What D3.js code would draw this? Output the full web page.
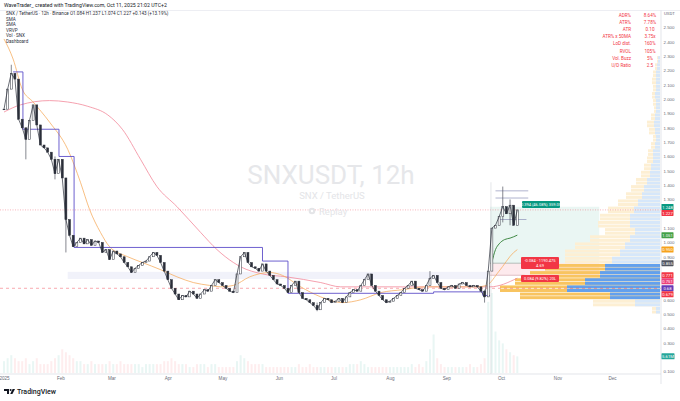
<!DOCTYPE html>
<meta charset="utf-8">
<head>
  <script src="https://cdnjs.cloudflare.com/ajax/libs/d3/7.8.5/d3.min.js"></script>
  <style>
    body { margin: 0; background: #fff; }
    svg { display: block; font-family: Roboto, "Liberation Sans", sans-serif; }
  </style>
</head>
<body>
<div id="chart"></div>
<script>

// ---- data ----
// 12h chart sampled every 2 days from Jan 1 2025
var firstDay = new Date(2025, 0, 1);
var stepDays = 2;
var closes = [
  1.93, 2.07, 2.18, 2.14, 1.86, 1.80, 1.72, 1.85, 1.96, 1.82,
  1.68, 1.66, 1.63, 1.58, 1.48, 1.58, 1.45, 1.16, 1.05, 0.97,
  1.00, 1.03, 0.99, 1.02, 0.98, 1.01, 1.00, 0.93, 0.95, 0.88,
  0.94, 0.92, 0.90, 0.86, 0.83, 0.79, 0.82, 0.84, 0.86, 0.87,
  0.90, 0.93, 0.91, 0.86, 0.80, 0.74, 0.68, 0.64, 0.60, 0.63,
  0.62, 0.66, 0.64, 0.61, 0.64, 0.67, 0.66, 0.70, 0.74, 0.72,
  0.70, 0.68, 0.66, 0.65, 0.78, 0.90, 0.93, 0.86, 0.83, 0.82,
  0.80, 0.85, 0.80, 0.77, 0.74, 0.71, 0.70, 0.68, 0.65, 0.70,
  0.73, 0.65, 0.61, 0.60, 0.58, 0.56, 0.53, 0.58, 0.61, 0.60,
  0.58, 0.59, 0.61, 0.58, 0.62, 0.65, 0.67, 0.66, 0.70, 0.74,
  0.78, 0.70, 0.66, 0.63, 0.60, 0.58, 0.59, 0.61, 0.63, 0.65,
  0.68, 0.70, 0.73, 0.68, 0.67, 0.66, 0.70, 0.75, 0.77, 0.72,
  0.68, 0.67, 0.69, 0.70, 0.68, 0.71, 0.72, 0.70, 0.69, 0.70,
  0.69, 0.66, 0.62, 0.80, 1.10, 1.12, 1.18, 1.25, 1.20, 1.26,
  1.12, 1.227
];
// volume in millions, same sampling
var volumes = [
  4, 5, 6, 5, 4, 4, 5, 3, 4, 5, 3, 3, 3, 4, 5,
  6, 8, 7, 6, 5, 4, 4, 3, 3, 4, 3, 3, 3, 3, 4,
  3, 3, 4, 3, 3, 3, 3, 3, 2, 3, 3, 3, 3, 3, 4,
  4, 5, 4, 3, 3, 3, 2, 2, 3, 3, 3, 2, 3, 3, 2,
  2, 2, 2, 2, 4, 6, 5, 4, 3, 3, 3, 3, 2, 2, 2,
  2, 2, 2, 2, 2, 2, 3, 2, 2, 3, 2, 2, 2, 2, 2,
  2, 2, 2, 2, 2, 3, 3, 3, 4, 3, 2, 2, 2, 2, 2,
  2, 2, 2, 2, 2, 2, 2, 3, 2, 3, 2, 4, 8, 13, 5,
  3, 2, 2, 2, 2, 2, 2, 2, 3, 2, 2, 3, 5, 24, 27,
  14, 11, 10, 8, 7, 6, 5.61
];
// a few long wicks [day, low, high]
var wicks = [[4, 2.10, 2.24], [12, 1.58, 1.80], [28, 1.44, 1.60], [34, 0.93, 1.45],
  [172, 0.52, 0.58], [234, 0.70, 0.80], [264, 0.58, 0.67], [274, 1.14, 1.39], [278, 1.12, 1.30]];

// moving averages [day, value]
var smaFast = [[0, 2.42], [5, 2.28], [10, 2.07], [16, 1.98], [25, 1.84], [35, 1.65], [42, 1.42],
  [47, 1.23], [53, 1.07], [58, 0.97], [68, 0.90], [76, 0.86], [86, 0.81], [95, 0.76], [104, 0.72],
  [113, 0.70], [119, 0.69], [126, 0.70], [135, 0.76], [146, 0.79], [153, 0.77], [163, 0.69],
  [174, 0.62], [186, 0.58], [196, 0.60], [207, 0.65], [219, 0.67], [232, 0.69], [247, 0.69],
  [260, 0.69], [265, 0.70], [272, 0.80], [280, 0.93], [282, 0.95]];
var smaSlow = [[0, 1.91], [9, 1.96], [25, 1.99], [35, 1.98], [46, 1.95], [57, 1.89], [65, 1.79],
  [75, 1.58], [84, 1.39], [95, 1.25], [108, 1.07], [117, 0.95], [126, 0.86], [130, 0.83],
  [142, 0.78], [155, 0.76], [174, 0.72], [185, 0.69], [201, 0.69], [219, 0.69], [238, 0.69],
  [260, 0.69], [267, 0.69], [282, 0.751]];
var vwapGreen = [[268, 0.86], [270, 0.95], [272, 0.99], [275, 1.02], [278, 1.03], [282, 1.051]];
var stepLine = [[5, 2.19], [10.4, 1.79], [30.2, 1.60], [38.5, 0.965], [142, 0.87], [156, 0.645],
  [236, 0.655], [263, 0.63], [267, 0.63]];

// levels drawn after the breakout [price, from day, to day]
var levels = [[1.36, 270, 288], [1.31, 270, 288], [1.16, 272, 287]];

// long position tool
var posStart = 267, posEnd = 327;
var posTarget = 1.249, posEntry = 0.855, posStop = 0.771;
var posLabels = ["0.394 (46.08%) 359.05", "-0.084 \u00b7 1190.475", "4.69", "0.084 (9.82%) 20L"];

var lastPrice = 1.227;
var supportLevel = 0.68;
var bandLow = 0.745, bandHigh = 0.795, bandFrom = 35, bandTo = 266;

// visible range volume profile, 0.05 bins starting at 0.50
var vpStart = 0.50, vpStep = 0.05;
var vpTotal = [8, 67, 140, 160, 145, 130, 115, 95, 95, 85, 70, 55, 62, 60, 52, 42, 34, 29, 24, 19,
  16, 13, 12, 9, 7, 11, 13, 9, 6, 7, 8, 7, 8, 7, 5, 3];
var vpUp = [4, 25, 50, 93, 75, 60, 55, 48, 40, 35, 30, 25, 30, 30, 26, 22, 18, 16, 13, 10,
  9, 7, 7, 5, 4, 5, 6, 5, 4, 4, 5, 4, 4, 4, 3, 2];
var vaLow = 0.60, vaHigh = 0.85;

var dashRows = ["ADR%", "ATR%", "ATR", "ATR% x 50MA", "LoD dist.", "RVOL", "Vol. Buzz", "U/D Ratio"];
var dashVals = ["8.64%", "7.78%", "0.10", "3.75x", "160%", "105%", "5%", "2.5"];

var legendRows = ["SNX / TetherUS \u00b7 12h \u00b7 Binance   O1.084 H1.237 L1.074 C1.227 +0.143 (+13.19%)",
  "SMA", "SMA", "VRVP", "Vol \u00b7 SNX", "Dashboard"];

var axisTags = [
  { v: 1.248, t: "1.248", c: "#089981" },
  { v: 1.227, t: "1.227", c: "#f23645" },
  { v: 1.051, t: "1.051", c: "#43a047" },
  { v: 0.950, t: "0.950", c: "#f7a21b" },
  { v: 0.855, t: "0.855", c: "#50535e" },
  { v: 0.771, t: "0.771", c: "#f23645" },
  { v: 0.751, t: "0.751", c: "#ec407a" },
  { v: 0.68, t: "0.68", c: "#673ab7" },
  { v: 0.679, t: "0.679", c: "#f23645" }
];

// ---- layout ----
var W = 680, H = 401;
var plotRight = 661, plotTop = 11, plotBottom = 374;

var svg = d3.select("#chart").append("svg")
  .attr("width", W).attr("height", H)
  .style("background", "#fff");

function dayDate(d) { return new Date(firstDay.getTime() + d * 864e5); }

var x = d3.scaleTime()
  .domain([new Date(2025, 0, 1), new Date(2025, 11, 1)])
  .range([4, 612]);
var y = d3.scaleLinear().domain([0.1, 2.5]).range([371.4, 27.5]);
var yVol = d3.scaleLinear().domain([0, 28]).range([plotBottom - 1, 290]);
var xProfile = d3.scaleLinear().domain([0, 160]).range([0, 160]);

svg.append("defs").append("clipPath").attr("id", "plot")
  .append("rect").attr("x", 0).attr("y", plotTop).attr("width", plotRight).attr("height", plotBottom - plotTop);

var plot = svg.append("g").attr("clip-path", "url(#plot)");

var series = closes.map(function (c, i) { return { date: dayDate(i * stepDays), close: c, vol: volumes[i], prev: i ? closes[i - 1] : c }; });

// lavender band
plot.append("rect")
  .attr("x", x(dayDate(bandFrom))).attr("width", x(dayDate(bandTo)) - x(dayDate(bandFrom)))
  .attr("y", y(bandHigh)).attr("height", y(bandLow) - y(bandHigh))
  .attr("fill", "#f1f2fa");

// position tool
var px0 = x(dayDate(posStart)), px1 = x(dayDate(posEnd));
plot.append("rect").attr("x", px0).attr("width", px1 - px0)
  .attr("y", y(posTarget)).attr("height", y(posEntry) - y(posTarget))
  .attr("fill", "#eaf6f3");
plot.append("rect").attr("x", px0).attr("width", px1 - px0)
  .attr("y", y(posEntry)).attr("height", y(posStop) - y(posEntry))
  .attr("fill", "#fdeaed");

// volume bars
plot.selectAll("rect.vol")
  .data(series).enter().append("rect").attr("class", "vol")
  .attr("x", function (d) { return x(d.date) - 1; })
  .attr("width", 2)
  .attr("y", function (d) { return yVol(d.vol); })
  .attr("height", function (d) { return yVol(0) - yVol(d.vol); })
  .attr("fill", function (d) { return d.close >= d.prev ? "rgba(8,153,129,0.09)" : "rgba(242,54,69,0.09)"; });

// volume profile
var vp = plot.append("g");
vpTotal.forEach(function (tot, i) {
  var lo = vpStart + i * vpStep, hi = lo + vpStep;
  var inVA = lo >= vaLow - 1e-9 && lo < vaHigh;
  var y0 = y(hi), h = y(lo) - y(hi);
  // two thin rows per bin, like the stripes in the picture
  [0, h / 2].forEach(function (off) {
    vp.append("rect").attr("x", plotRight - 1 - xProfile(tot)).attr("width", xProfile(tot))
      .attr("y", y0 + off).attr("height", h / 2 - 0.6).attr("fill", inVA ? "#f8c460" : "#fdefd3");
    vp.append("rect").attr("x", plotRight - 1 - xProfile(vpUp[i])).attr("width", xProfile(vpUp[i]))
      .attr("y", y0 + off).attr("height", h / 2 - 0.6).attr("fill", inVA ? "#62a0ee" : "#d6e7fa");
  });
});

// last price dotted line
plot.append("line").attr("x1", 0).attr("x2", plotRight).attr("y1", y(lastPrice)).attr("y2", y(lastPrice))
  .attr("stroke", "#f23645").attr("stroke-width", 0.6).attr("stroke-dasharray", "1,1.5").attr("opacity", 0.6);
// support dashed line
plot.append("line").attr("x1", 0).attr("x2", plotRight).attr("y1", y(supportLevel)).attr("y2", y(supportLevel))
  .attr("stroke", "#f23645").attr("stroke-width", 0.6).attr("stroke-dasharray", "3,3").attr("opacity", 0.7);

// breakout vertical line
plot.append("line").attr("x1", x(dayDate(267.5))).attr("x2", x(dayDate(267.5)))
  .attr("y1", y(1.42)).attr("y2", plotBottom)
  .attr("stroke", "#c9ccd3").attr("stroke-width", 0.5);

// levels
levels.forEach(function (l) {
  plot.append("line").attr("x1", x(dayDate(l[1]))).attr("x2", x(dayDate(l[2])))
    .attr("y1", y(l[0])).attr("y2", y(l[0]))
    .attr("stroke", "#8c92b8").attr("stroke-width", 0.7);
});
plot.append("line").attr("x1", px0).attr("x2", x(dayDate(286))).attr("y1", y(posEntry)).attr("y2", y(posEntry))
  .attr("stroke", "#8a9a92").attr("stroke-width", 0.6);
plot.append("line").attr("x1", px0).attr("x2", x(dayDate(286))).attr("y1", y(posStop)).attr("y2", y(posStop))
  .attr("stroke", "#c99aa5").attr("stroke-width", 0.6);

var lineDV = d3.line()
  .x(function (d) { return x(dayDate(d[0])); })
  .y(function (d) { return y(d[1]); });

plot.append("path").datum(smaSlow).attr("d", lineDV.curve(d3.curveMonotoneX))
  .attr("fill", "none").attr("stroke", "#f2899a").attr("stroke-width", 0.8);
plot.append("path").datum(smaFast).attr("d", lineDV.curve(d3.curveMonotoneX))
  .attr("fill", "none").attr("stroke", "#f6ae63").attr("stroke-width", 0.8);
plot.append("path").datum(stepLine).attr("d", lineDV.curve(d3.curveStepAfter))
  .attr("fill", "none").attr("stroke", "#5e4fc9").attr("stroke-width", 0.9);
plot.append("path").datum(vwapGreen).attr("d", lineDV.curve(d3.curveMonotoneX))
  .attr("fill", "none").attr("stroke", "#2e7d32").attr("stroke-width", 0.9);

// price: wicks, thin candle bodies and a close line
plot.selectAll("line.wick").data(wicks).enter().append("line")
  .attr("x1", function (d) { return x(dayDate(d[0])); })
  .attr("x2", function (d) { return x(dayDate(d[0])); })
  .attr("y1", function (d) { return y(d[1]); })
  .attr("y2", function (d) { return y(d[2]); })
  .attr("stroke", "#50535e").attr("stroke-width", 0.7);
plot.selectAll("rect.body").data(series).enter().append("rect")
  .attr("x", function (d) { return x(d.date) - 1; })
  .attr("width", 2)
  .attr("y", function (d) { return y(Math.max(d.close, d.prev)); })
  .attr("height", function (d) { return Math.max(0.6, Math.abs(y(d.close) - y(d.prev))); })
  .attr("fill", function (d) { return d.close >= d.prev ? "#ffffff" : "#2a2e39"; })
  .attr("stroke", "#2a2e39").attr("stroke-width", 0.5);
plot.append("path").datum(series)
  .attr("d", d3.line().x(function (d) { return x(d.date); }).y(function (d) { return y(d.close); }))
  .attr("fill", "none").attr("stroke", "#2a2e39").attr("stroke-width", 0.7).attr("stroke-linejoin", "round");

// position labels
function tag(g, cx, cy, lines, color) {
  var w = 38, h = lines.length * 5 + 2;
  g.append("rect").attr("x", cx - w / 2).attr("y", cy - h / 2).attr("width", w).attr("height", h)
    .attr("rx", 1).attr("fill", color);
  lines.forEach(function (t, i) {
    g.append("text").attr("x", cx).attr("y", cy - h / 2 + 5 + i * 5)
      .attr("text-anchor", "middle").attr("font-size", 4).attr("fill", "#fff").text(t);
  });
}
tag(svg, 541, 204.5, [posLabels[0]], "#089981");
tag(svg, 540, 263, [posLabels[1], posLabels[2]], "#f23645");
tag(svg, 540, 278.5, [posLabels[3]], "#f23645");

// watermark
svg.append("text").attr("x", 331).attr("y", 184).attr("text-anchor", "middle")
  .attr("font-size", 26).attr("fill", "#e6e7ea").text("SNXUSDT, 12h");
svg.append("text").attr("x", 332).attr("y", 199).attr("text-anchor", "middle")
  .attr("font-size", 9.5).attr("fill", "#e4e5e8").text("SNX / TetherUS");
svg.append("circle").attr("cx", 312).attr("cy", 211).attr("r", 3.3).attr("fill", "#e4e5e8");
svg.append("circle").attr("cx", 312).attr("cy", 211).attr("r", 1.2).attr("fill", "#fff");
svg.append("text").attr("x", 319).attr("y", 214.5).attr("font-size", 9.5).attr("fill", "#e4e5e8").text("Replay");

// frame
svg.append("line").attr("x1", 0).attr("x2", W).attr("y1", 10.5).attr("y2", 10.5).attr("stroke", "#e0e3eb").attr("stroke-width", 0.6);
svg.append("line").attr("x1", plotRight).attr("x2", plotRight).attr("y1", 10.5).attr("y2", 384).attr("stroke", "#d1d4dc").attr("stroke-width", 0.6);
svg.append("line").attr("x1", 0).attr("x2", plotRight).attr("y1", plotBottom).attr("y2", plotBottom).attr("stroke", "#d1d4dc").attr("stroke-width", 0.6);

// header and legend
svg.append("text").attr("x", 4).attr("y", 7).attr("font-size", 5.2).attr("fill", "#131722")
  .text("WaveTrader_ created with TradingView.com, Oct 11, 2025 21:02 UTC+2");
svg.selectAll("text.leg").data(legendRows).enter().append("text").attr("class", "leg")
  .attr("x", 6).attr("y", function (d, i) { return 15 + i * 5.5; })
  .attr("font-size", 4.6).attr("fill", "#2a2e39").text(function (d) { return d; });

// dashboard
svg.selectAll("text.dl").data(dashRows).enter().append("text").attr("class", "dl")
  .attr("x", 631).attr("y", function (d, i) { return 17 + i * 7.1; })
  .attr("text-anchor", "end").attr("font-size", 4.6).attr("fill", "#f23645").text(function (d) { return d; });
svg.selectAll("text.dv").data(dashVals).enter().append("text").attr("class", "dv")
  .attr("x", 650).attr("y", function (d, i) { return 17 + i * 7.1; })
  .attr("text-anchor", "middle").attr("font-size", 4.6).attr("fill", "#f23645").text(function (d) { return d; });

// right axis tags (pushed apart)
var tagY = [];
axisTags.forEach(function (t, i) {
  var yy = y(t.v);
  if (i && yy < tagY[i - 1] + 6) yy = tagY[i - 1] + 6;
  tagY.push(yy);
});
var volTagY = yVol(volumes[volumes.length - 1]);

// right axis ticks
var yAxis = svg.append("g").attr("transform", "translate(" + (plotRight + 1) + ",0)")
  .call(d3.axisRight(y).tickValues(d3.range(1, 26).map(function (i) { return i / 10; }))
    .tickFormat(d3.format(".3f")).tickSize(0).tickPadding(1.5));
yAxis.select(".domain").remove();
yAxis.selectAll("text").attr("font-size", 4.4).attr("fill", "#6a6d78")
  .attr("display", function (d) {
    var yy = y(d);
    var hit = tagY.some(function (t) { return Math.abs(t - yy) < 5; }) || Math.abs(volTagY - yy) < 5;
    return hit ? "none" : null;
  });
svg.append("text").attr("x", 664).attr("y", 15).attr("font-size", 4.4).attr("fill", "#6a6d78").text("USDT");

axisTags.forEach(function (t, i) {
  svg.append("rect").attr("x", plotRight + 0.5).attr("y", tagY[i] - 3).attr("width", 12).attr("height", 6)
    .attr("rx", 0.6).attr("fill", t.c);
  svg.append("text").attr("x", plotRight + 6.5).attr("y", tagY[i] + 1.6).attr("text-anchor", "middle")
    .attr("font-size", 4.2).attr("fill", "#fff").text(t.t);
});
svg.append("rect").attr("x", plotRight + 0.5).attr("y", volTagY - 3).attr("width", 13).attr("height", 6)
  .attr("rx", 0.6).attr("fill", "#26a69a");
svg.append("text").attr("x", plotRight + 7).attr("y", volTagY + 1.6).attr("text-anchor", "middle")
  .attr("font-size", 4.2).attr("fill", "#fff").text("5.61M");

// time axis
var xAxis = svg.append("g").attr("transform", "translate(0," + plotBottom + ")")
  .call(d3.axisBottom(x).ticks(d3.timeMonth.every(1))
    .tickFormat(function (d) { return d.getMonth() === 0 ? "2025" : d3.timeFormat("%b")(d); })
    .tickSize(0).tickPadding(3));
xAxis.select(".domain").remove();
xAxis.selectAll("text").attr("font-size", 4.6).attr("fill", "#6a6d78");

// logo
var logo = svg.append("g").attr("transform", "translate(4,389)");
logo.append("path").attr("d", "M0,0H5V5H3V2H0Z").attr("fill", "#131722");
logo.append("circle").attr("cx", 6.6).attr("cy", 1).attr("r", 1).attr("fill", "#131722");
logo.append("path").attr("d", "M8.6,0H11L8.4,5H6.2Z").attr("fill", "#131722");
svg.append("text").attr("x", 17).attr("y", 394).attr("font-size", 7).attr("font-weight", 500)
  .attr("fill", "#131722").text("TradingView");

</script>
</body>
